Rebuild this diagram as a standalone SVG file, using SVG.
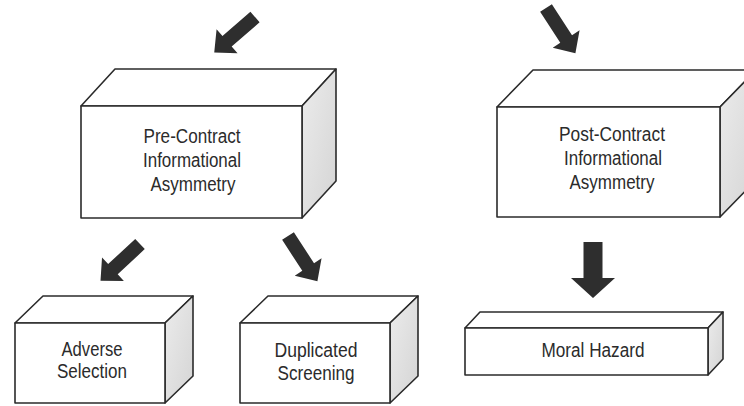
<svg xmlns="http://www.w3.org/2000/svg" width="744" height="406" viewBox="0 0 744 406">
<style>
.face{fill:#ffffff;stroke:#2b2b2b;stroke-width:1.6;stroke-linejoin:round}
.side{fill:url(#sideGrad);stroke:#2b2b2b;stroke-width:1.6;stroke-linejoin:round}
.lbl{font-family:"Liberation Sans",Arial,sans-serif;font-size:20px;fill:#2b2b2b;text-anchor:middle}
.arr{fill:#2e2e2e}
</style>
<defs>
<linearGradient id="sideGrad" x1="0" y1="0" x2="1" y2="1">
<stop offset="0" stop-color="#ececec"/>
<stop offset="1" stop-color="#d4d4d4"/>
</linearGradient>
<path id="arrowD" d="M0,-7 L37,-7 L37,-16 L54,0 L37,16 L37,7 L0,7 Z"/>
<path id="arrowV" d="M0,-9.5 L36,-9.5 L36,-22 L56,0 L36,22 L36,9.5 L0,9.5 Z"/>
</defs>
<rect width="744" height="406" fill="#ffffff"/>

<g id="connectors">
<use href="#arrowD" class="arr" transform="translate(255,17) rotate(139)"/>
<use href="#arrowD" class="arr" transform="translate(546,8) rotate(57)"/>
<use href="#arrowD" class="arr" transform="translate(140,244) rotate(137)"/>
<use href="#arrowD" class="arr" transform="translate(288,236) rotate(57)"/>
<use href="#arrowV" class="arr" transform="translate(593,242) rotate(90)"/>
</g>

<g id="pre-contract">
<polygon class="face" points="81,106 115,69 336,69 302,106"/>
<polygon class="side" points="302,106 336,69 336,181 302,218"/>
<rect class="face" x="81" y="106" width="221" height="112"/>
<text class="lbl" x="192" y="143" textLength="97" lengthAdjust="spacingAndGlyphs">Pre-Contract</text>
<text class="lbl" x="192" y="167" textLength="98" lengthAdjust="spacingAndGlyphs">Informational</text>
<text class="lbl" x="193" y="191" textLength="85" lengthAdjust="spacingAndGlyphs">Asymmetry</text>
</g>

<g id="post-contract">
<polygon class="face" points="497,107 533,70 756,70 720,107"/>
<polygon class="side" points="720,107 756,70 756,180 720,217"/>
<rect class="face" x="497" y="107" width="223" height="110"/>
<text class="lbl" x="612" y="141" textLength="106" lengthAdjust="spacingAndGlyphs">Post-Contract</text>
<text class="lbl" x="613" y="165" textLength="98" lengthAdjust="spacingAndGlyphs">Informational</text>
<text class="lbl" x="612" y="189" textLength="85" lengthAdjust="spacingAndGlyphs">Asymmetry</text>
</g>

<g id="adverse-selection">
<polygon class="face" points="15,323 43,296 193,296 165,323"/>
<polygon class="side" points="165,323 193,296 193,376 165,403"/>
<rect class="face" x="15" y="323" width="150" height="80"/>
<text class="lbl" x="92" y="356" textLength="61" lengthAdjust="spacingAndGlyphs">Adverse</text>
<text class="lbl" x="92" y="378" textLength="70" lengthAdjust="spacingAndGlyphs">Selection</text>
</g>

<g id="duplicated-screening">
<polygon class="face" points="240,323 268,296 418,296 390,323"/>
<polygon class="side" points="390,323 418,296 418,376 390,403"/>
<rect class="face" x="240" y="323" width="150" height="80"/>
<text class="lbl" x="316" y="357" textLength="83" lengthAdjust="spacingAndGlyphs">Duplicated</text>
<text class="lbl" x="316" y="380" textLength="77" lengthAdjust="spacingAndGlyphs">Screening</text>
</g>

<g id="moral-hazard">
<polygon class="face" points="465,328 480,312 723,312 708,328"/>
<polygon class="side" points="708,328 723,312 723,359 708,375"/>
<rect class="face" x="465" y="328" width="243" height="47"/>
<text class="lbl" x="593" y="357" textLength="103" lengthAdjust="spacingAndGlyphs">Moral Hazard</text>
</g>
</svg>
